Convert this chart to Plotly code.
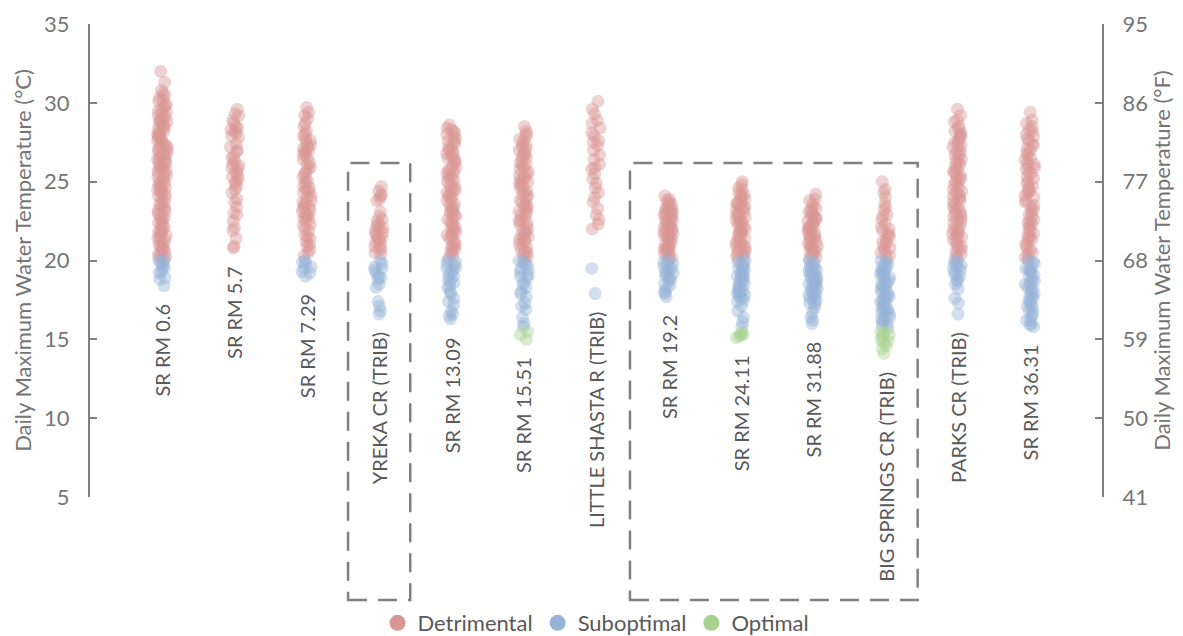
import plotly.graph_objects as go

# Monitoring sites, upstream order
sites = [
    "SR RM 0.6", "SR RM 5.7", "SR RM 7.29", "YREKA CR (TRIB)", "SR RM 13.09",
    "SR RM 15.51", "LITTLE SHASTA R (TRIB)", "SR RM 19.2", "SR RM 24.11",
    "SR RM 31.88", "BIG SPRINGS CR (TRIB)", "PARKS CR (TRIB)", "SR RM 36.31",
]

# Daily maximum water temperature (°C) per site
temps_sr_0_6 = [
    18.4, 18.8, 19.2, 19.5, 19.9, 20.0, 19.7, 19.3, 18.9, 19.6, 20.0, 20.2, 20.6, 21.1,
    21.4, 21.9, 22.3, 22.8, 23.2, 23.5, 24.1, 24.6, 25.0, 25.4, 25.9, 26.3, 26.8, 27.2,
    27.5, 27.9, 28.4, 28.8, 29.1, 29.5, 29.9, 30.2, 30.5, 30.8, 31.3, 32.0, 30.6, 30.1,
    29.8, 29.4, 29.7, 29.2, 28.9, 29.3, 28.6, 28.2, 28.7, 28.0, 28.5, 27.7, 28.1, 27.4,
    27.8, 27.1, 27.6, 26.9, 27.3, 26.6, 27.0, 26.4, 26.7, 26.1, 26.5, 25.8, 26.2, 25.6,
    26.0, 25.3, 25.7, 25.1, 25.5, 24.8, 25.2, 24.5, 24.9, 24.3, 24.7, 24.0, 24.4, 23.7,
    24.2, 23.4, 23.9, 23.1, 23.6, 22.9, 23.3, 22.6, 23.0, 22.4, 22.7, 22.1, 22.5, 21.8,
    22.2, 21.6, 21.9, 21.3, 21.7, 21.0, 21.5, 20.8, 21.2, 20.5, 20.9, 20.3, 20.7, 20.1,
    20.4, 27.9, 28.3, 26.8, 25.9, 29.0, 29.6, 30.3, 28.8, 27.2, 26.3, 24.6,
]
temps_sr_5_7 = [
    20.8, 20.9, 21.4, 22.1, 22.5, 23.0, 23.4, 23.9, 24.3, 24.7, 25.0, 25.3, 25.6, 26.0,
    26.3, 26.6, 27.0, 27.4, 27.9, 28.3, 28.5, 28.9, 29.3, 29.6, 29.2, 28.7, 28.2, 28.4,
    27.8, 27.2, 26.9, 26.1, 25.8, 25.4, 25.2, 24.9, 24.5, 23.7, 22.9, 21.9, 26.5, 25.9,
    28.1,
]
temps_sr_7_29 = [
    19.0, 19.3, 19.6, 19.9, 20.0, 19.5, 19.8, 19.2, 20.3, 20.7, 21.0, 21.4, 21.6, 22.0,
    22.3, 22.5, 22.8, 23.0, 23.3, 23.5, 23.8, 24.1, 24.4, 24.6, 24.9, 25.2, 25.5, 25.8,
    26.1, 26.4, 26.7, 27.0, 27.3, 27.6, 27.9, 28.2, 28.5, 29.0, 29.4, 29.7, 29.2, 28.7,
    28.0, 27.7, 27.4, 27.1, 26.8, 26.5, 26.2, 25.9, 25.6, 25.3, 25.0, 24.7, 24.3, 24.0,
    23.7, 23.4, 23.1, 22.9, 22.6, 22.2, 21.9, 21.5, 21.2, 20.9, 20.5, 23.2, 23.6, 24.5,
    22.7, 26.9, 27.2,
]
temps_yreka = [
    16.6, 16.8, 17.1, 17.4, 18.3, 18.5, 18.8, 19.0, 19.2, 19.4, 19.6, 19.8, 20.0, 20.4,
    20.7, 20.9, 21.1, 21.3, 21.5, 21.6, 21.8, 21.9, 22.0, 22.1, 22.3, 22.5, 22.8, 23.1,
    23.8, 24.1, 24.4, 24.7, 24.2, 23.9, 22.6, 22.2, 21.7, 21.4, 21.2, 20.8, 20.5, 19.5,
    18.9,
]
temps_sr_13_09 = [
    16.3, 16.5, 16.8, 17.2, 17.6, 17.9, 18.3, 18.6, 18.8, 19.1, 19.3, 19.5, 19.7, 19.8,
    20.0, 19.9, 19.6, 19.4, 19.0, 18.7, 18.4, 18.0, 17.4, 16.6, 20.2, 20.5, 20.8, 21.1,
    21.4, 21.7, 22.0, 22.3, 22.6, 22.9, 23.2, 23.5, 23.8, 24.1, 24.4, 24.7, 25.0, 25.3,
    25.6, 25.9, 26.2, 26.5, 26.8, 27.1, 27.4, 27.7, 28.0, 28.3, 28.6, 28.4, 28.1, 27.8,
    27.5, 27.2, 26.9, 26.6, 26.3, 26.0, 25.7, 25.4, 25.1, 24.8, 24.5, 24.2, 23.9, 23.6,
    23.3, 23.0, 22.7, 22.4, 22.1, 21.8, 21.5, 21.2, 20.9, 20.6, 20.3, 27.0, 26.4, 25.8,
    25.2, 24.6, 24.0, 23.4, 22.8, 22.2, 21.6, 21.0, 27.6, 26.7, 25.5, 24.3, 23.1, 21.9,
    20.7, 28.2,
]
temps_sr_15_51 = [
    15.0, 15.3, 15.5, 15.8, 16.0, 16.4, 16.9, 17.3, 17.7, 18.0, 18.3, 18.6, 18.9, 19.1,
    19.3, 19.5, 19.7, 19.9, 20.0, 19.8, 19.4, 19.0, 18.5, 17.9, 17.1, 20.1, 20.4, 20.7,
    21.0, 21.3, 21.6, 21.9, 22.2, 22.5, 22.8, 23.1, 23.4, 23.7, 24.0, 24.3, 24.6, 24.9,
    25.2, 25.5, 25.8, 26.1, 26.4, 26.7, 27.0, 27.3, 27.6, 27.9, 28.2, 28.5, 28.0, 27.7,
    27.4, 27.1, 26.8, 26.5, 26.2, 25.9, 25.6, 25.3, 25.0, 24.7, 24.4, 24.1, 23.8, 23.5,
    23.2, 22.9, 22.6, 22.3, 22.0, 21.7, 21.4, 21.1, 20.8, 20.5, 20.2, 27.2, 26.6, 26.0,
    25.4, 24.8, 24.2, 23.6, 23.0, 22.4, 21.8, 21.2, 20.6, 25.1, 23.3, 21.5,
]
temps_little_shasta = [
    30.1, 29.6, 29.3, 28.9, 28.7, 28.4, 28.1, 27.9, 27.6, 27.3, 27.0, 26.7, 26.4, 26.1,
    25.8, 25.5, 25.2, 24.9, 24.6, 24.3, 24.0, 23.7, 23.3, 22.9, 22.6, 22.3, 22.0, 25.9,
    27.5, 19.5, 17.9,
]
temps_sr_19_2 = [
    17.7, 17.9, 18.2, 18.5, 18.7, 18.9, 19.1, 19.3, 19.4, 19.6, 19.7, 19.8, 19.9, 20.0,
    19.5, 19.2, 18.8, 18.4, 18.0, 19.0, 20.1, 20.3, 20.5, 20.7, 20.9, 21.1, 21.3, 21.5,
    21.7, 21.9, 22.1, 22.3, 22.5, 22.7, 22.9, 23.1, 23.3, 23.5, 23.7, 23.9, 24.1, 23.8,
    23.6, 23.4, 23.2, 23.0, 22.8, 22.6, 22.4, 22.2, 22.0, 21.8, 21.6, 21.4, 21.2, 21.0,
    20.8, 20.6, 20.4, 20.2, 22.5, 22.9, 23.3, 21.9, 21.5, 20.7, 22.1, 23.0, 21.7, 20.9,
]
temps_sr_24_11 = [
    15.1, 15.2, 15.3, 15.4, 15.3, 15.8, 16.1, 16.4, 16.8, 17.1, 17.4, 17.6, 17.8, 18.0,
    18.2, 18.4, 18.6, 18.8, 19.0, 19.2, 19.4, 19.6, 19.8, 20.0, 19.9, 19.7, 19.5, 19.3,
    19.1, 18.9, 18.7, 18.5, 18.3, 18.1, 17.9, 17.7, 17.5, 19.0, 18.0, 20.1, 20.3, 20.5,
    20.7, 20.9, 21.1, 21.3, 21.5, 21.7, 21.9, 22.1, 22.3, 22.5, 22.7, 22.9, 23.1, 23.3,
    23.5, 23.7, 23.9, 24.1, 24.3, 24.5, 24.8, 25.0, 24.6, 24.2, 24.0, 23.8, 23.6, 23.4,
    23.2, 23.0, 22.8, 22.6, 22.4, 22.2, 22.0, 21.8, 21.6, 21.4, 21.2, 21.0, 20.8, 20.6,
    20.4, 20.2, 22.5, 21.9, 23.3, 20.9,
]
temps_sr_31_88 = [
    16.0, 16.2, 16.4, 16.7, 17.0, 17.2, 17.4, 17.6, 17.8, 18.0, 18.2, 18.4, 18.6, 18.8,
    19.0, 19.2, 19.4, 19.6, 19.8, 20.0, 19.9, 19.7, 19.5, 19.3, 19.1, 18.9, 18.7, 18.5,
    18.3, 18.1, 17.9, 17.7, 17.5, 17.3, 18.6, 19.0, 18.2, 17.8, 19.4, 18.8, 20.1, 20.3,
    20.5, 20.7, 20.9, 21.1, 21.3, 21.5, 21.7, 21.9, 22.1, 22.3, 22.5, 22.7, 22.9, 23.1,
    23.3, 23.6, 23.9, 24.2, 23.8, 23.4, 23.2, 23.0, 22.8, 22.6, 22.4, 22.2, 22.0, 21.8,
    21.6, 21.4, 21.2, 21.0, 20.8, 20.6, 20.4, 20.2, 21.5, 22.1, 20.9, 22.7,
]
temps_big_springs = [
    14.1, 14.4, 14.6, 14.8, 15.0, 15.2, 15.3, 15.5, 15.4, 14.9, 15.7, 15.9, 16.1, 16.3,
    16.5, 16.7, 16.9, 17.1, 17.3, 17.5, 17.7, 17.9, 18.1, 18.3, 18.5, 18.7, 18.9, 19.1,
    19.3, 19.5, 19.7, 19.9, 20.0, 19.8, 19.6, 19.4, 19.2, 19.0, 18.8, 18.6, 18.4, 18.2,
    18.0, 17.8, 17.6, 17.4, 17.2, 17.0, 16.8, 16.6, 16.4, 16.2, 16.0, 18.5, 17.5, 19.3,
    16.9, 20.1, 20.3, 20.5, 20.7, 20.9, 21.1, 21.3, 21.5, 21.7, 21.9, 22.1, 22.3, 22.6,
    22.9, 23.2, 23.6, 24.0, 24.5, 25.0, 24.3, 23.4, 22.8, 22.0, 21.6, 21.2, 20.8, 20.4,
]
temps_parks = [
    16.6, 17.3, 17.6, 18.2, 18.5, 18.8, 19.0, 19.2, 19.4, 19.6, 19.8, 20.0, 19.9, 19.7,
    19.5, 19.1, 18.7, 20.1, 20.4, 20.7, 21.0, 21.3, 21.6, 21.9, 22.2, 22.5, 22.8, 23.1,
    23.4, 23.7, 24.0, 24.3, 24.6, 24.9, 25.2, 25.5, 25.8, 26.1, 26.4, 26.7, 27.0, 27.3,
    27.6, 27.9, 28.2, 28.5, 28.8, 29.2, 29.6, 28.9, 28.4, 28.1, 27.8, 27.5, 27.2, 26.9,
    26.6, 26.3, 26.0, 25.7, 25.4, 25.1, 24.8, 24.5, 24.2, 23.9, 23.6, 23.3, 23.0, 22.7,
    22.4, 22.1, 21.8, 21.5, 21.2, 20.9, 20.6, 20.3, 26.8, 26.2, 25.6, 25.0, 24.4, 23.8,
    23.2, 22.6, 22.0, 21.4, 20.8, 27.4, 28.0, 25.3, 24.1, 22.9, 21.7,
]
temps_sr_36_31 = [
    15.8, 16.0, 16.2, 16.5, 16.8, 17.0, 17.2, 17.4, 17.6, 17.8, 18.0, 18.2, 18.4, 18.6,
    18.8, 19.0, 19.2, 19.4, 19.6, 19.8, 20.0, 19.9, 19.5, 19.1, 18.7, 18.3, 17.9, 17.5,
    17.1, 16.7, 16.3, 15.9, 17.7, 18.5, 19.3, 20.1, 20.4, 20.7, 21.0, 21.3, 21.6, 21.9,
    22.2, 22.5, 22.8, 23.1, 23.4, 23.7, 24.0, 24.3, 24.6, 24.9, 25.2, 25.5, 25.8, 26.1,
    26.4, 26.7, 27.0, 27.3, 27.6, 27.9, 28.2, 28.5, 28.9, 29.4, 28.7, 28.3, 28.0, 27.7,
    27.4, 27.1, 26.8, 26.5, 26.2, 25.9, 25.6, 25.3, 25.0, 24.7, 24.4, 24.1, 23.8, 23.5,
    23.2, 22.9, 22.6, 22.3, 22.0, 21.7, 21.4, 21.1, 20.8, 20.5, 20.2, 26.0, 24.5, 22.4,
    21.5,
]

site_temps = [
    temps_sr_0_6, temps_sr_5_7, temps_sr_7_29, temps_yreka, temps_sr_13_09,
    temps_sr_15_51, temps_little_shasta, temps_sr_19_2, temps_sr_24_11,
    temps_sr_31_88, temps_big_springs, temps_parks, temps_sr_36_31,
]

# Thermal suitability classes (°C thresholds)
classes = ["Detrimental", "Suboptimal", "Optimal"]
class_colors = {
    "Detrimental": "rgb(217,150,148)",
    "Suboptimal": "rgb(149,179,215)",
    "Optimal": "rgb(169,209,142)",
}
DETRIMENTAL_ABOVE = 20.0
OPTIMAL_AT_OR_BELOW = 15.5


def classify(t):
    if t > DETRIMENTAL_ABOVE:
        return "Detrimental"
    if t > OPTIMAL_AT_OR_BELOW:
        return "Suboptimal"
    return "Optimal"


AXIS_GRAY = "#808080"
TEXT_GRAY = "#767676"
LABEL_GRAY = "#595959"
FONT = "Lato"

fig = go.Figure()

# Jittered strip of daily values, one trace per class
for cls in classes:
    xs, ys = [], []
    for site, temps in zip(sites, site_temps):
        for t in temps:
            if classify(t) == cls:
                xs.append(site)
                ys.append(t)
    fig.add_trace(go.Box(
        x=xs, y=ys, name=cls, showlegend=False,
        boxpoints="all", jitter=0.28, pointpos=0, width=0.5,
        fillcolor="rgba(0,0,0,0)", line=dict(width=0, color="rgba(0,0,0,0)"),
        marker=dict(size=13, color=class_colors[cls], opacity=0.42),
        hoverinfo="skip",
    ))

# Legend entries
for cls in classes:
    fig.add_trace(go.Scatter(
        x=[None], y=[None], mode="markers", name=cls,
        marker=dict(size=20, color=class_colors[cls]),
    ))

# Anchor for the °F axis
fig.add_trace(go.Scatter(x=[sites[0]], y=[None], yaxis="y2", mode="markers",
                         showlegend=False, hoverinfo="skip"))

# Site names, rotated, just below each site's lowest value
for site, temps in zip(sites, site_temps):
    fig.add_annotation(
        x=site, y=min(temps), xref="x", yref="y",
        text=site, textangle=-90, showarrow=False,
        xanchor="center", yanchor="top", yshift=-16,
        font=dict(family=FONT, size=20, color=LABEL_GRAY),
    )

# Dashed groupings: tributary at Yreka and the upper-river reach
dash_line = dict(color=AXIS_GRAY, width=2.5, dash="19px,11px")
for x0, x1 in [(2.57, 3.43), (6.47, 10.45)]:
    fig.add_shape(type="rect", xref="x", yref="paper",
                  x0=x0, x1=x1, y0=-0.218, y1=0.706,
                  line=dash_line, fillcolor="rgba(0,0,0,0)")

fig.update_layout(
    width=1183, height=636,
    margin=dict(l=90, r=81, t=24, b=139, autoexpand=False),
    paper_bgcolor="white", plot_bgcolor="white",
    boxmode="overlay",
    font=dict(family=FONT, color=TEXT_GRAY),
    xaxis=dict(
        categoryorder="array", categoryarray=sites,
        range=[-1, len(sites)], showticklabels=False, showgrid=False,
        zeroline=False, showline=False, ticks="",
    ),
    yaxis=dict(
        range=[5, 35], tick0=5, dtick=5,
        showgrid=False, zeroline=False,
        showline=True, linecolor=AXIS_GRAY, linewidth=2,
        ticks="inside", ticklen=7, tickwidth=2, tickcolor=AXIS_GRAY,
        ticklabelstandoff=14,
        tickfont=dict(family=FONT, size=22, color=TEXT_GRAY),
        title=dict(text="Daily Maximum Water Temperature (°C)",
                   font=dict(family=FONT, size=22, color=TEXT_GRAY), standoff=6),
    ),
    yaxis2=dict(
        overlaying="y", side="right",
        range=[41, 95], tick0=41, dtick=9,
        showgrid=False, zeroline=False,
        showline=True, linecolor=AXIS_GRAY, linewidth=2,
        ticks="inside", ticklen=7, tickwidth=2, tickcolor=AXIS_GRAY,
        ticklabelstandoff=14,
        tickfont=dict(family=FONT, size=22, color=TEXT_GRAY),
        title=dict(text="Daily Maximum Water Temperature (°F)",
                   font=dict(family=FONT, size=22, color=TEXT_GRAY), standoff=6),
    ),
    legend=dict(
        orientation="h", x=0.5, xanchor="center",
        yref="paper", y=-0.222, yanchor="top",
        font=dict(family=FONT, size=22, color=LABEL_GRAY),
        itemsizing="trace", bgcolor="rgba(0,0,0,0)",
    ),
)

fig.write_html("out.html")
